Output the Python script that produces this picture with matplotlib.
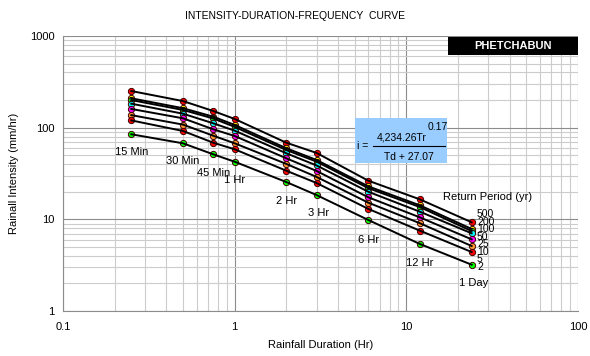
import matplotlib.pyplot as plt
from matplotlib.patches import Rectangle

plt.rcParams['font.family'] = ['Liberation Sans', 'DejaVu Sans']

# rainfall durations (hr): 15, 30, 45 min, 1, 2, 3, 6, 12, 24 hr
durations = [0.25, 0.5, 0.75, 1, 2, 3, 6, 12, 24]
duration_labels = ['15 Min', '30 Min', '45 Min', '1 Hr', '2 Hr', '3 Hr', '6 Hr', '12 Hr', '1 Day']

return_periods = [500, 200, 100, 50, 25, 10, 5, 2]

# intensity (mm/hr) for each return period
i_500 = [251, 195, 152, 124.4, 68.5, 53.0, 26.4, 16.5, 9.29]
i_200 = [209, 163, 131.8, 107, 59.6, 44.4, 22.9, 14.2, 7.85]
i_100 = [200, 156, 126, 102, 57.0, 42.6, 21.9, 13.6, 7.45]
i_50 = [182.6, 142, 111.6, 92.7, 52.5, 38.7, 20.0, 12.1, 7.04]
i_25 = [160, 126.5, 96, 81.1, 46.3, 33.7, 17.4, 10.5, 6.05]
i_10 = [137, 108, 81.7, 67.5, 40.2, 29.0, 15.2, 9.06, 5.12]
i_5 = [120, 92, 68.5, 58.1, 33.9, 24.9, 13.0, 7.52, 4.40]
i_2 = [84.7, 67.5, 51.2, 42.5, 25.5, 18.4, 9.84, 5.38, 3.20]

series = [i_500, i_200, i_100, i_50, i_25, i_10, i_5, i_2]
marker_colors = ['#ff0000', '#ffff00', '#00ff00', '#00ffff', '#ff00ff', '#ff9933', '#ff0000', '#00ff00']

# where the duration captions sit (hr, mm/hr)
caption_x = [0.25, 0.5, 0.75, 1.0, 2.0, 3.1, 6.0, 12.0, 24.7]
caption_y = [54, 43.3, 32.3, 26.8, 16.0, 11.7, 5.96, 3.37, 2.0]

fig = plt.figure(figsize=(5.9, 3.56), dpi=100)
ax = fig.add_axes([0.1068, 0.1264, 0.8729, 0.7725])
ax.set_xscale('log')
ax.set_yscale('log')
ax.set_xlim(0.1, 100)
ax.set_ylim(1, 1000)

# Excel-like gridlines
ax.grid(True, which='minor', color='#cccccc', linewidth=0.8)
ax.grid(True, which='major', color='#8c8c8c', linewidth=0.8)
ax.set_axisbelow(True)
for side in ['top', 'right']:
    ax.spines[side].set_visible(False)
for side in ['left', 'bottom']:
    ax.spines[side].set_color('#8c8c8c')
ax.tick_params(which='both', length=0, labelsize=8)
ax.tick_params(axis='x', pad=8)
ax.tick_params(axis='y', pad=6)
ax.set_xticks([0.1, 1, 10, 100])
ax.set_xticklabels(['0.1', '1', '10', '100'])
ax.set_yticks([1, 10, 100, 1000])
ax.set_yticklabels(['1', '10', '100', '1000'])

for vals, col in zip(series, marker_colors):
    ax.plot(durations, vals, 'o', markersize=4.5, markerfacecolor=col,
            markeredgecolor='#400000', markeredgewidth=0.7, zorder=3)
    ax.plot(durations, vals, '-', color='black', linewidth=1.4, zorder=4)

for x, y, t in zip(caption_x, caption_y, duration_labels):
    ax.text(x, y, t, fontsize=8, ha='center', va='center')

ax.text(0.738, 0.4156, 'Return Period (yr)', transform=ax.transAxes, fontsize=8, va='center')
for k, rp in enumerate(return_periods):
    fig.text(477 / 590, 1 - (214.3 + 7.5 * k) / 356, str(rp), fontsize=7.5, va='center')

ax.set_xlabel('Rainfall Duration (Hr)', fontsize=8, labelpad=6)
ax.set_ylabel('Rainall Intensity (mm/hr)', fontsize=8, labelpad=8)
fig.text(0.5, 0.955, 'INTENSITY-DURATION-FREQUENCY  CURVE', fontsize=7.5, ha='center', va='center')

# station name box
fig.patches.append(Rectangle((448 / 590, 1 - 55 / 356), 130 / 590, 18 / 356,
                             transform=fig.transFigure, facecolor='black', edgecolor='none'))
fig.text(513 / 590, 1 - 46 / 356, 'PHETCHABUN', color='white', fontsize=8,
         fontweight='bold', ha='center', va='center')

# formula box
fig.patches.append(Rectangle((355 / 590, 1 - 163 / 356), 92 / 590, 45 / 356,
                             transform=fig.transFigure, facecolor='#99ccff', edgecolor='none', zorder=5))
fig.text(357 / 590, 1 - 146 / 356, 'i =', fontsize=7.5, va='center', zorder=6)
fig.text(402 / 590, 1 - 137 / 356, '4,234.26Tr', fontsize=7.5, ha='center', va='center', zorder=6)
fig.text(428 / 590, 1 - 127 / 356, '0.17', fontsize=7.5, ha='left', va='center', zorder=6)
fig.lines.append(plt.Line2D([373 / 590, 445 / 590], [1 - 146 / 356, 1 - 146 / 356],
                            transform=fig.transFigure, color='black', linewidth=0.8, zorder=6))
fig.text(409 / 590, 1 - 157 / 356, 'Td + 27.07', fontsize=7.5, ha='center', va='center', zorder=6)

fig.savefig('out.png', dpi=100)
